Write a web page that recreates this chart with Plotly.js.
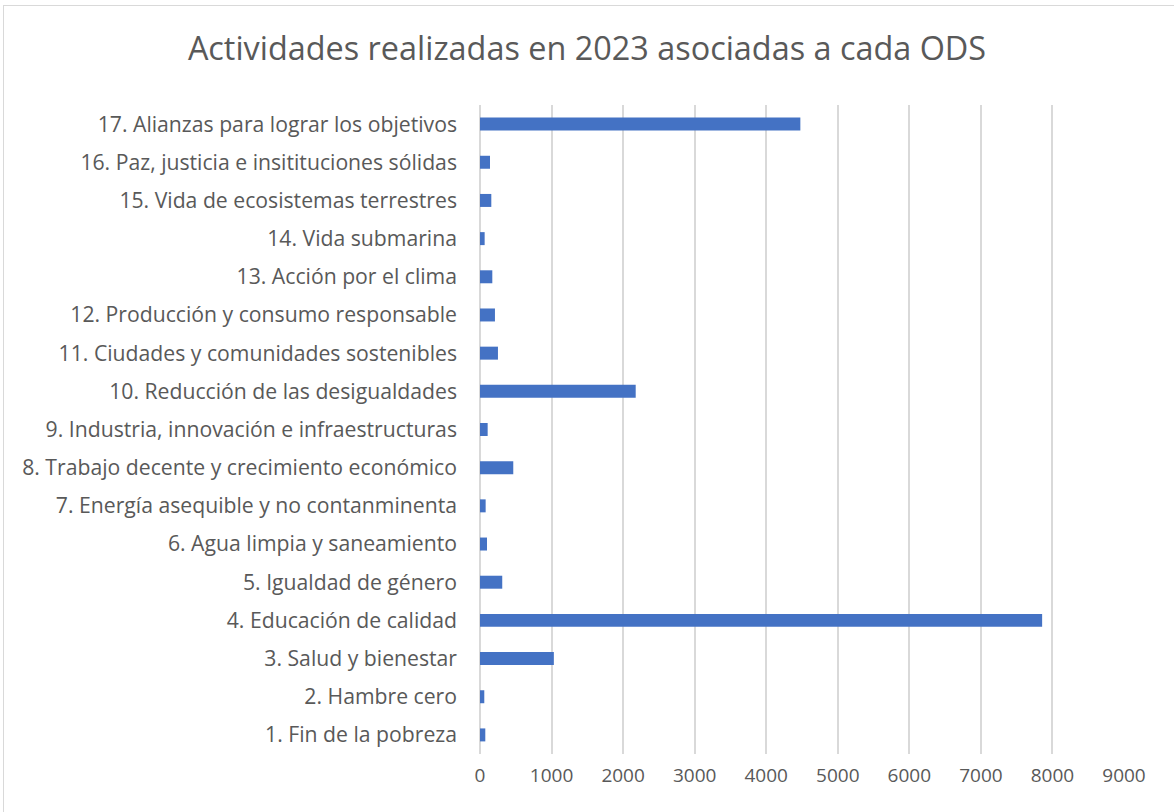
<!DOCTYPE html>
<html>
<head>
<meta charset="utf-8">
<script src="https://cdn.plot.ly/plotly-3.0.1.min.js"></script>
<style>
html,body{margin:0;padding:0;background:#fff;}
#frame{position:absolute;left:3px;top:5px;width:1180px;height:820px;border:1px solid #d9d9d9;box-sizing:border-box;pointer-events:none;}
#chart{position:absolute;left:0;top:0;width:1174px;height:812px;}
</style>
</head>
<body>
<div id="chart"></div>
<div id="frame"></div>
<script>
const categories = [
  "1. Fin de la pobreza",
  "2. Hambre cero",
  "3. Salud y bienestar",
  "4. Educación de calidad",
  "5. Igualdad de género",
  "6. Agua limpia y saneamiento",
  "7. Energía asequible y no contanminenta",
  "8. Trabajo decente y crecimiento económico",
  "9. Industria, innovación e infraestructuras",
  "10. Reducción de las desigualdades",
  "11. Ciudades y comunidades sostenibles",
  "12. Producción y consumo responsable",
  "13. Acción por el clima",
  "14. Vida submarina",
  "15. Vida de ecosistemas terrestres",
  "16. Paz, justicia e insitituciones sólidas",
  "17. Alianzas para lograr los objetivos"
];
const values = [74, 60, 1032, 7856, 311, 98, 79, 465, 107, 2176, 251, 209, 172, 65, 158, 140, 4477];
const xTicks = [0,1000,2000,3000,4000,5000,6000,7000,8000,9000];

const trace = {
  type: 'bar',
  orientation: 'h',
  y: categories,
  x: values,
  marker: {color: '#4472c4'},
  hoverinfo: 'x+y'
};

const layout = {
  width: 1174, height: 812,
  paper_bgcolor: 'rgba(0,0,0,0)',
  plot_bgcolor: '#ffffff',
  font: {family: 'Open Sans, sans-serif', color: '#595959', size: 18},
  title: {text: 'Actividades realizadas en 2023 asociadas a cada ODS', x: 0.5, xanchor: 'center', y: 0.94, yanchor: 'middle',
          font: {size: 32.4, color: '#595959', family: 'Open Sans, sans-serif'}},
  margin: {l: 480, r: 50, t: 105, b: 58},
  bargap: 0.66,
  showlegend: false,
  xaxis: {
    range: [0, 9000],
    tickvals: xTicks,
    ticktext: xTicks.map(String),
    showgrid: true, gridcolor: '#d9d9d9', gridwidth: 2,
    zeroline: true, zerolinecolor: '#d9d9d9', zerolinewidth: 2,
    showline: false,
    ticks: '',
    ticklabelstandoff: 8,
    tickfont: {size: 19, color: '#595959'},
    fixedrange: true
  },
  yaxis: {
    type: 'category',
    categoryorder: 'array',
    categoryarray: categories,
    showgrid: false,
    showline: false,
    ticks: '',
    ticklabelstandoff: 22,
    tickfont: {size: 21.2, color: '#595959'},
    automargin: false,
    fixedrange: true
  }
};

Plotly.newPlot('chart', [trace], layout, {displayModeBar: false, staticPlot: true});
</script>
</body>
</html>
